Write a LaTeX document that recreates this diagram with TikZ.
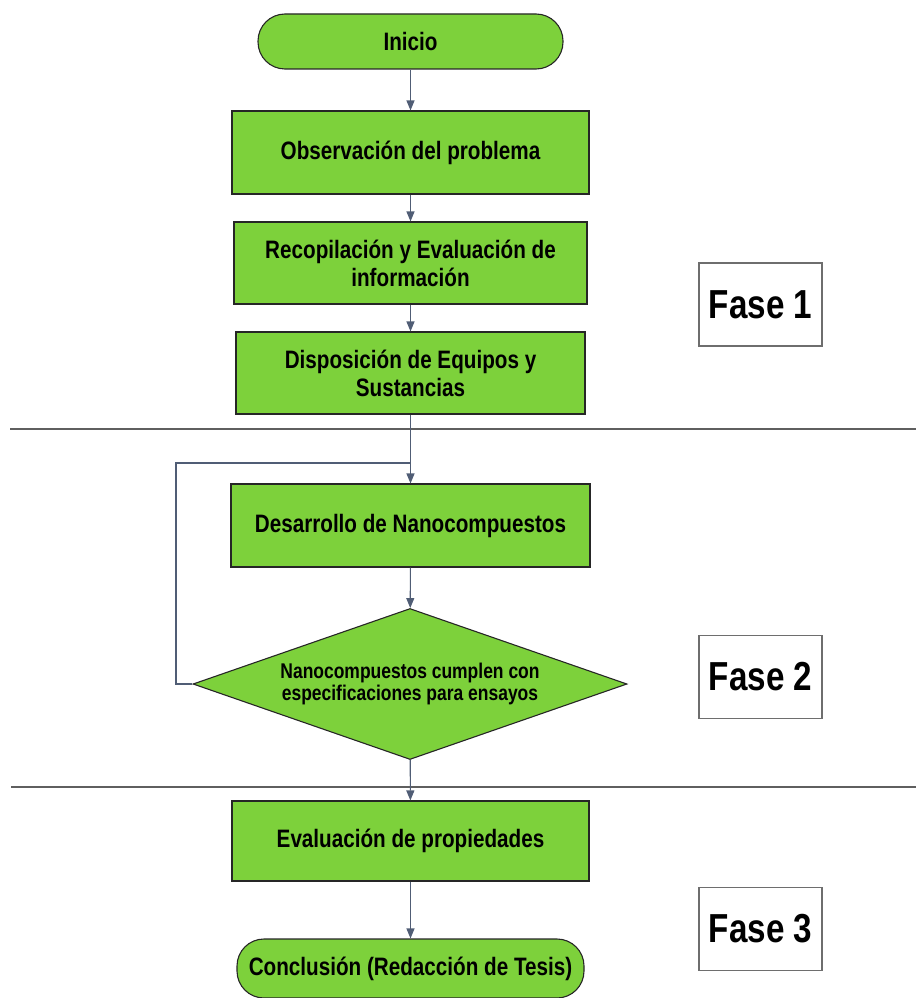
\documentclass[tikz,border=0pt]{standalone}
\usepackage{fontspec}
\setmainfont{Liberation Sans}[FakeStretch=0.82]
\usetikzlibrary{shapes.geometric,arrows.meta}
\definecolor{boxgreen}{RGB}{125,209,59}
\definecolor{flowline}{RGB}{80,93,117}
\definecolor{sepgray}{RGB}{95,95,95}
\definecolor{fasegray}{RGB}{110,110,110}
\tikzset{
  base/.style={draw=black!85, line width=1.1pt, fill=boxgreen, inner sep=0pt, align=center,
    font=\fontsize{25.2}{28}\selectfont\bfseries},
  procbox/.style={base, rectangle},
  termbox/.style={base, rectangle, rounded corners=27pt},
  decbox/.style={base, diamond, aspect=2.87, font=\fontsize{21.3}{22.5}\selectfont\bfseries},
  fasebox/.style={draw=fasegray, line width=1.4pt, fill=white, inner sep=0pt,
    minimum width=123pt, minimum height=83pt, font=\fontsize{40.5}{44}\selectfont\bfseries},
  flow/.style={draw=flowline, line width=1.1pt, -{Triangle[width=8pt,length=10pt]}},
  loopline/.style={draw=flowline, line width=1.1pt},
  sepline/.style={draw=sepgray, line width=1.8pt},
}
\begin{document}
\begin{tikzpicture}[x=1pt,y=-1pt]
\useasboundingbox (0,0) rectangle (916,998);
% separator lines
\coordinate (s1a) at (10,429); \coordinate (s1b) at (916,429);
\coordinate (s2a) at (11,787); \coordinate (s2b) at (916,787);
\draw[sepline] (s1a) -- (s1b);
\draw[sepline] (s2a) -- (s2b);
% nodes
\node[termbox, minimum width=305pt, minimum height=55pt] (ini) at (410.5,41.5) {Inicio};
\node[procbox, minimum width=357pt, minimum height=83pt] (obs) at (410.5,152.5) {Observación del problema};
\node[procbox, minimum width=353pt, minimum height=82pt] (rec) at (410.5,263) {Recopilación y Evaluación de\\información};
\node[procbox, minimum width=349pt, minimum height=82pt] (dis) at (410.5,373) {Disposición de Equipos y\\Sustancias};
\node[procbox, minimum width=359pt, minimum height=83pt] (des) at (410.5,525.5) {Desarrollo de Nanocompuestos};
\node[decbox, minimum width=434pt, minimum height=151pt] (dec) at (410,684) {Nanocompuestos cumplen con\\especificaciones para ensayos};
\node[procbox, minimum width=357pt, minimum height=80pt] (eva) at (410.5,841) {Evaluación de propiedades};
\node[termbox, minimum width=347pt, minimum height=59pt] (con) at (410.5,968.5) {Conclusión (Redacción de Tesis)};
\node[fasebox] (f1) at (760.5,304.5) {Fase 1};
\node[fasebox] (f2) at (760.5,677) {Fase 2};
\node[fasebox] (f3) at (760.5,929) {Fase 3};
% connectors
\draw[flow] (ini) -- (obs);
\draw[flow] (obs) -- (rec);
\draw[flow] (rec) -- (dis);
\draw[flow] (dis) -- (des);
\draw[flow] (des) -- (dec);
\draw[flow] (dec) -- (eva);
\draw[flow] (eva) -- (con);
\coordinate (lj) at (410,463);
\draw[loopline] (dec.west) -| (176,463) -- (lj);
\end{tikzpicture}
\end{document}
